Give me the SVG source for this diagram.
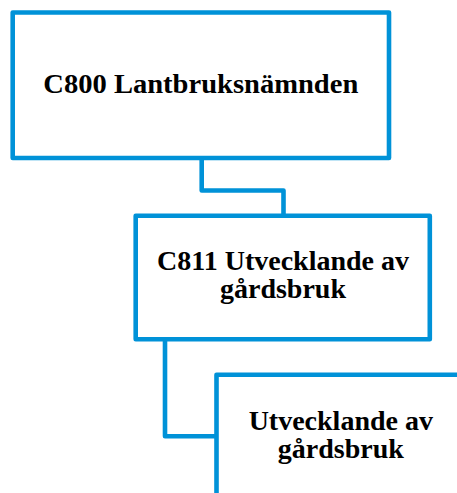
<svg xmlns="http://www.w3.org/2000/svg" width="457" height="493" viewBox="0 0 457 493">
<style>
.box{fill:#fff;stroke:#0092d8;stroke-width:4.6;stroke-linejoin:round}
.conn{fill:none;stroke:#0092d8;stroke-width:4.6;stroke-linejoin:round}
.t{font-family:"Liberation Serif","Times New Roman",serif;font-weight:bold;font-size:28px;fill:#000;text-anchor:middle}
</style>
<rect width="457" height="493" fill="#fff"/>
<g id="connectors">
<path class="conn" d="M201.7 158 V190.5 H283.5 V215.7"/>
<path class="conn" d="M165 339.2 V436.3 H216.5"/>
</g>
<g id="node-c800">
<rect class="box" x="12.7" y="12.5" width="376.3" height="145.5"/>
<text class="t" x="200.8" y="93.3" textLength="315" lengthAdjust="spacingAndGlyphs">C800 Lantbruksnämnden</text>
</g>
<g id="node-c811">
<rect class="box" x="135.7" y="215.7" width="294.1" height="123.5"/>
<text class="t" x="283" y="270">C811 Utvecklande av</text>
<text class="t" x="283" y="298.3">gårdsbruk</text>
</g>
<g id="node-sub">
<rect class="box" x="216.5" y="374.8" width="250" height="130"/>
<text class="t" x="340.8" y="430">Utvecklande av</text>
<text class="t" x="340.8" y="458.3">gårdsbruk</text>
</g>
</svg>
